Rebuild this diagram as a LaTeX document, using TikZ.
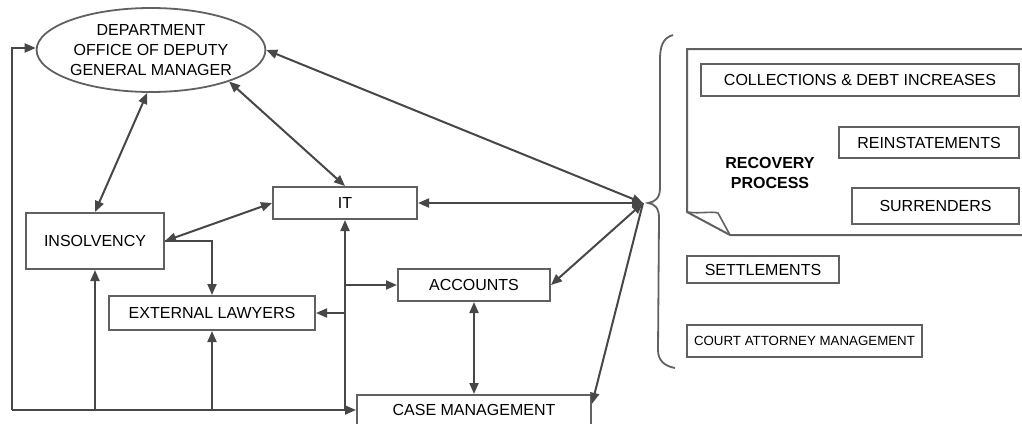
\documentclass[tikz,border=0pt]{standalone}
\usepackage{fontspec}
\setmainfont{Liberation Sans}
\usetikzlibrary{shapes.geometric,arrows.meta,calc}
\begin{document}
\begin{tikzpicture}[x=1pt,y=-1pt,
  line/.style={draw=black!72,line width=2pt},
  tip/.style={-{Triangle[length=11pt,width=9pt]}},
  tips/.style={{Triangle[length=11pt,width=9pt]}-{Triangle[length=11pt,width=9pt]}},
  box/.style={draw=black!62,line width=2pt,rectangle,inner sep=0pt,font=\fontsize{16}{18}\selectfont,fill=white},
]
\useasboundingbox (0,0) rectangle (1022,423);
% nodes
\node[draw=black!62,line width=1.8pt,ellipse,minimum width=222pt,minimum height=84pt,inner sep=0pt,align=center,font=\fontsize{16}{20}\selectfont] (ell) at (151,50) {DEPARTMENT\\OFFICE OF DEPUTY\\GENERAL MANAGER};
\node[box,minimum width=138pt,minimum height=56pt] (ins) at (95,241) {INSOLVENCY};
\node[box,minimum width=206pt,minimum height=34pt] (el) at (212,313) {EXTERNAL LAWYERS};
\node[box,minimum width=144pt,minimum height=32pt] (it) at (345,203) {IT};
\node[box,minimum width=152pt,minimum height=32pt] (acc) at (474,285) {ACCOUNTS};
\node[box,minimum width=234pt,minimum height=30pt] (cm) at (474,410) {CASE MANAGEMENT};
% recovery process page
\draw[draw=black!62,line width=2pt] (1040,49) -- (687,49) -- (687,212) -- (730,235) -- (1040,235);
\draw[draw=black!62,line width=1.6pt] (687,212) .. controls (700,214) and (712,211) .. (718,213) -- (730,235);
\node[font=\bfseries\fontsize{16}{20}\selectfont,align=center] (rp) at (770,173) {RECOVERY\\PROCESS};
\node[box,minimum width=318pt,minimum height=32pt] (col) at (860,80) {COLLECTIONS \& DEBT INCREASES};
\node[box,minimum width=180pt,minimum height=31pt] (rein) at (929,142.5) {REINSTATEMENTS};
\node[box,minimum width=167pt,minimum height=36pt] (sur) at (935.5,206) {SURRENDERS};
\node[box,minimum width=152pt,minimum height=27pt] (set) at (763,269.5) {SETTLEMENTS};
\node[box,minimum width=235pt,minimum height=32pt,font=\fontsize{13.3}{15}\selectfont] (cam) at (804.5,341) {COURT ATTORNEY MANAGEMENT};
% brace and hub
\coordinate (hub) at (643,203);
\draw[draw=black!62,line width=1.8pt] (673,35) .. controls (662,38) and (660,48) .. (660,60) -- (660,188) .. controls (660,198) and (655,202) .. (648,203) .. controls (655,204) and (659,208) .. (659,218) -- (658,350) .. controls (658,360) and (664,366) .. (675,368);
% connectors
\coordinate (bl) at (12,410);
\draw[line,tip] (bl) |- ($(ell.west)+(0,-2)$);
\draw[line,tip] (bl) -- (cm.west);
\draw[line,tip] (ins.south |- bl) -- (ins.south);
\draw[line,tip] (el.south |- bl) -- (el.south);
\draw[line,tip] (it.south |- bl) -- (it.south);
\draw[line,tip] (it.south |- acc.west) -- (acc.west);
\draw[line,tip] (it.south |- el.east) -- (el.east);
\draw[line,tip] (ins.east) -| (el.north);
\draw[line,tips] (ins.north) -- (ell.-95);
\draw[line,tips] (ell.-22) -- (it.north);
\draw[line,tips] (it.west) -- (ins.east);
\draw[line,tips] (acc.south) -- (cm.north);
\draw[line,tips] (ell.east) -- (hub);
\draw[line,tips] (it.east) -- (hub);
\draw[line,tips] (acc.east) -- (hub);
\draw[line,tip] (hub) -- (cm.3);
\end{tikzpicture}
\end{document}
